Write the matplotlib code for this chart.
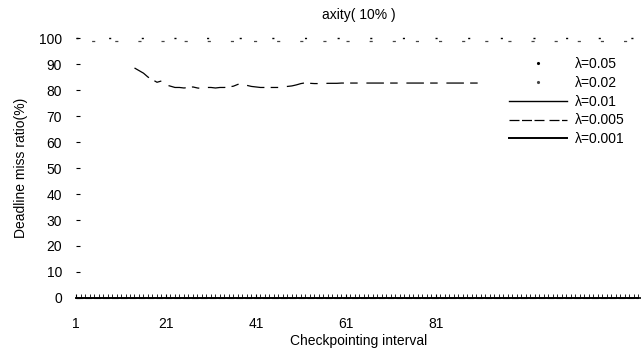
import numpy as np
import matplotlib
matplotlib.use("Agg")
import matplotlib.pyplot as plt
from matplotlib.lines import Line2D

plt.rcParams['font.family'] = ['Liberation Sans', 'DejaVu Sans']

title = "axity( 10% )"
xlabel = "Checkpointing interval"
ylabel = "Deadline miss ratio(%)"
xticks = [1, 21, 41, 61, 81]
yticks = [0, 10, 20, 30, 40, 50, 60, 70, 80, 90, 100]
labels = ["λ=0.05", "λ=0.02", "λ=0.01", "λ=0.005", "λ=0.001"]

# interval values (checkpointing interval)
x = list(range(1, 127))

# λ=0.05 : all deadlines missed
y005 = [100.0] * len(x)
# λ=0.02 : nearly all missed
y002 = [99.0] * len(x)
# λ=0.01 : starts at interval 14
x001 = list(range(14, 92))
y001 = [88.5, 87.5, 86.5, 85.0, 84.0, 83.0, 83.5, 82.0, 81.5, 81.0,
        81.0, 80.8, 81.0, 81.2, 80.8, 80.6, 81.0, 81.0, 80.8, 81.0,
        81.0, 81.2, 81.5, 82.2, 82.4, 81.8, 81.4, 81.2, 81.0, 81.0,
        81.0, 81.0, 81.0, 81.2, 81.4, 81.6, 82.0, 82.5, 82.8, 82.6,
        82.5, 82.5, 82.5, 82.6, 82.6, 82.6, 82.7, 82.7, 82.7, 82.7,
        82.7, 82.7, 82.7, 82.7, 82.7, 82.7, 82.7, 82.7, 82.7, 82.7,
        82.7, 82.7, 82.7, 82.7, 82.7, 82.7, 82.7, 82.7, 82.7, 82.7,
        82.7, 82.7, 82.7, 82.7, 82.7, 82.7, 82.7, 82.7]
# λ=0.005 and λ=0.001 : no misses
y0005 = [0.0] * len(x)
y0001 = [0.0] * len(x)

fig = plt.figure(figsize=(6.41, 3.56), dpi=100)
ax = fig.add_axes([0.1186, 0.163, 0.8814, 0.730])

ax.plot(x, y005, color='black', lw=1.0, linestyle=(0, (1.5, 22)), clip_on=False)
ax.plot(x, y002, color='#444444', lw=0.9, linestyle=(6, (2.5, 16)), clip_on=False)
ax.plot(x001, y001, color='black', lw=0.9, linestyle=(0, (14, 5, 6, 7)))
ax.plot(x, y0005, color='black', lw=0.8, linestyle=(0, (6, 2)), clip_on=False)
ax.plot(x, y0001, color='black', lw=1.2, clip_on=False)

ax.set_xlim(1, 126.6)
ax.set_ylim(0, 100)
ax.set_xticks(xticks)
ax.set_xticks(x, minor=True)
ax.set_yticks(yticks)

for s in ['top', 'right', 'left']:
    ax.spines[s].set_visible(False)
ax.spines['bottom'].set_linewidth(1.2)

ax.tick_params(axis='x', which='major', direction='in', length=3, labelsize=10,
               pad=14)
ax.tick_params(axis='x', which='minor', direction='in', length=3, width=0.6)
ax.tick_params(axis='y', direction='in', length=3, labelsize=10, pad=10)

ax.set_title(title, fontsize=10, pad=14)
ax.set_xlabel(xlabel, fontsize=10, labelpad=2)
ax.set_ylabel(ylabel, fontsize=10, labelpad=8)

# legend handles: first two as single dots
handles = [
    Line2D([], [], color='black', marker='.', markersize=2.5, linestyle='None'),
    Line2D([], [], color='#444444', marker='.', markersize=2.5, linestyle='None'),
    Line2D([], [], color='black', lw=1.0),
    Line2D([], [], color='black', lw=0.9, linestyle=(0, (8, 2, 8, 2, 8, 4))),
    Line2D([], [], color='black', lw=1.4),
]
leg = ax.legend(handles, labels, loc='upper right', bbox_to_anchor=(0.985, 0.96),
                frameon=False, fontsize=10, handlelength=4.2, handletextpad=0.5,
                labelspacing=0.35, borderaxespad=0.2)

fig.savefig("out.png", dpi=100)
